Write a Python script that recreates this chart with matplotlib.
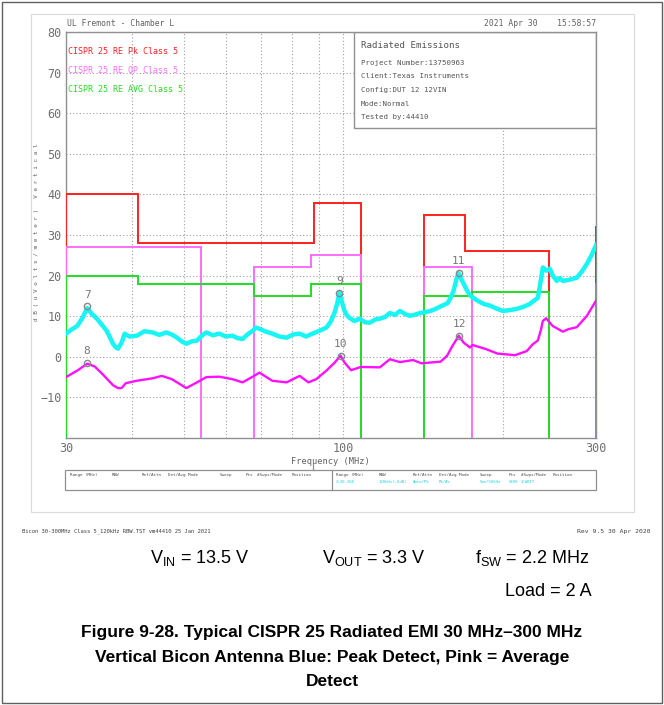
import numpy as np
import matplotlib.pyplot as plt
from matplotlib.patches import Rectangle

# limit lines, CISPR 25 class 5 (start MHz, stop MHz, level dBuV/m)
pk_start = [30, 41, 88, 142, 170, 300]
pk_stop = [41, 88, 108, 170, 245, 330]
pk_level = [40, 28, 38, 35, 26, 32]

qp_start = [30, 68, 87, 142]
qp_stop = [54, 87, 108, 175]
qp_level = [27, 22, 25, 22]

av_start = [30, 41, 68, 87, 142, 175, 300]
av_stop = [41, 68, 87, 108, 175, 245, 330]
av_level = [20, 18, 15, 18, 15, 16, 18]

# peak trace (blue/cyan)
pk_freq = [30.0, 30.8, 31.5, 32.2, 32.9, 33.6, 34.3, 35.0, 35.8, 36.3, 36.8, 37.2,
           37.6, 38.2, 38.7, 39.5, 40.8, 42.2, 43.7, 45.0, 46.4, 47.5, 48.6, 49.6,
           50.6, 51.8, 53.0, 54.1, 55.2, 56.8, 58.4, 60.1, 61.8, 63.2, 64.6, 66.0,
           67.5, 68.5, 69.5, 71.5, 73.5, 75.8, 78.2, 80.5, 82.8, 85.1, 87.5, 90.2,
           93.0, 94.7, 96.3, 97.4, 98.4, 99.5, 100.6, 101.7, 102.8, 105.0, 107.4,
           110.0, 112.3, 115.0, 117.3, 120.0, 122.5, 125.2, 128.0, 131.0, 133.7,
           136.8, 139.8, 143.0, 146.2, 149.5, 152.7, 155.0, 157.4, 159.5, 161.6,
           163.5, 165.1, 167.0, 168.8, 171.5, 174.0, 176.7, 179.4, 184.3, 189.3,
           194.6, 200.1, 206.3, 212.6, 218.7, 225.0, 229.0, 233.0, 235.5, 238.1,
           241.7, 245.4, 249.2, 253.0, 256.3, 259.7, 267.7, 276.0, 282.1, 288.4,
           294.2, 300.0]
pk_trace = [5.7, 6.8, 7.6, 9.5, 12.0, 10.5, 9.4, 8.0, 6.4, 4.8, 3.2, 2.4,
            2.0, 3.5, 5.7, 5.0, 5.2, 6.3, 6.0, 5.4, 6.0, 5.5, 4.7, 3.8,
            3.2, 3.8, 4.0, 5.2, 6.0, 5.3, 5.7, 5.0, 5.2, 4.6, 4.4, 5.5,
            6.4, 7.2, 6.9, 6.2, 5.7, 5.0, 4.7, 5.5, 5.7, 5.0, 5.7, 6.4,
            7.2, 8.6, 10.8, 13.0, 15.8, 13.5, 11.3, 10.2, 9.6, 8.8, 9.4,
            8.5, 8.4, 9.2, 9.4, 9.8, 10.8, 10.3, 11.3, 10.5, 10.1,
            10.4, 10.8, 11.0, 11.3, 11.8, 12.4, 12.8, 13.2, 14.5, 16.3,
            19.0, 20.6, 19.2, 18.0, 16.2, 15.0, 14.4, 13.8, 13.0, 12.6,
            11.9, 11.3, 11.5, 11.8, 12.3, 13.0, 13.8, 14.5, 18.0, 22.0,
            21.2, 21.7, 19.8, 18.7, 19.4, 18.7, 19.0, 19.5, 21.0, 22.9,
            25.0, 27.5]

# average trace (pink)
av_freq = [30.1, 31.5, 32.9, 34.0, 35.3, 36.8, 37.6, 38.2, 38.9, 40.8, 43.7, 45.5,
           47.5, 50.6, 53.0, 55.2, 58.4, 61.8, 64.6, 67.5, 69.5, 73.5, 78.2, 82.8,
           86.0, 89.0, 93.0, 96.3, 98.9, 100.6, 103.5, 108.0, 117.3, 122.5, 128.0,
           135.5, 140.5, 152.7, 157.0, 160.5, 165.3, 168.8, 173.5, 175.5, 186.0,
           195.5, 211.0, 222.0, 228.0, 233.0, 236.0, 238.1, 241.5, 248.5, 259.7,
           266.0, 276.0, 288.4, 300.0]
av_trace = [-4.9, -3.4, -1.7, -2.4, -4.5, -7.0, -7.7, -7.7, -6.5, -5.9, -5.3, -4.7,
            -5.5, -7.7, -6.3, -5.0, -4.9, -5.5, -6.3, -4.9, -3.9, -5.9, -6.3, -4.7,
            -6.3, -5.5, -3.4, -1.5, 0.3, -1.4, -3.3, -2.5, -2.6, -0.6, -1.3,
            -0.8, -1.6, -1.2, 0.2, 2.5, 5.2, 3.5, 2.3, 2.9, 1.9,
            0.8, 0.4, 1.4, 3.1, 4.0, 6.5, 8.8, 9.5, 7.6, 6.2,
            6.8, 7.3, 10.1, 13.8]

# markers
mk_label = ['7', '8', '9', '10', '11', '12']
mk_freq = [32.9, 32.8, 98.4, 98.9, 165.1, 165.5]
mk_level = [12.4, -1.5, 15.8, 0.2, 20.7, 5.2]

info_lines = ['Project Number:13750963', 'Client:Texas Instruments',
              'Config:DUT 12 12VIN', 'Mode:Normal', 'Tested by:44410']
tbl_head = ['Range (MHz)', 'RBW', 'Ref/Attn', 'Det/Avg Mode', 'Sweep', 'Pts',
            '#Swps/Mode', 'Position']
tbl_vals = ['2:30-300', '120kHz(-6dB)', 'Auto/Pk', 'Pk/Av', '5ms/50kHz', '5400',
            '1/WRIT', '']

W, H = 664, 705
RED, MAG, GRN, CYA, PNK = '#ff2020', '#ff6cff', '#22dd22', '#19f5f5', '#ff10ff'
MONO = 'DejaVu Sans Mono'

fig = plt.figure(figsize=(W / 100, H / 100), dpi=100)


def fx(x):
    return x / W


def fy(y):
    return 1 - y / H


def ftext(x, y, s, **kw):
    fig.text(fx(x), fy(y), s, **kw)


# frames
fig.add_artist(Rectangle((fx(2), fy(703)), fx(660), 701 / H, fill=False,
                         ec='#606060', lw=1.0, transform=fig.transFigure))
fig.add_artist(Rectangle((fx(31), fy(512)), fx(603), 498 / H, fill=False,
                         ec='#dadada', lw=0.8, transform=fig.transFigure))

ax = fig.add_axes([fx(66), fy(438), fx(530), 406 / H])
ax.set_xscale('log')
ax.set_xlim(30, 300)
ax.set_ylim(-20, 80)
ax.set_xticks([30, 100, 300])
ax.set_xticklabels(['30', '100', '300'])
ax.set_xticks([40, 50, 60, 70, 80, 90, 200], minor=True)
ax.xaxis.set_minor_formatter(plt.NullFormatter())
ax.set_yticks(range(-10, 81, 10))
ax.tick_params(which='both', length=0, colors='#707070', labelsize=8.5, pad=3)
for lab in ax.get_xticklabels() + ax.get_yticklabels():
    lab.set_family(MONO)
ax.grid(True, which='both', color='#a0a0a0', lw=0.8, ls=(0, (1, 2)))
ax.set_axisbelow(True)
for sp in ax.spines.values():
    sp.set_color('#909090')
    sp.set_linewidth(1.0)

# info box sits on the grid
ax.add_patch(Rectangle((0.5435, 0.7635), 0.4565, 0.2365, transform=ax.transAxes,
                       fc='white', ec='#909090', lw=1.0, zorder=1.5))


def limit_path(starts, stops, levels):
    xs, ys = [], []
    for i, (s, e, v) in enumerate(zip(starts, stops, levels)):
        if i == 0 or s != stops[i - 1]:
            if xs:
                xs.append(np.nan)
                ys.append(np.nan)
            xs += [s]
            ys += [-20]
        xs += [s, e]
        ys += [v, v]
        if i == len(starts) - 1 or starts[i + 1] != e:
            xs.append(e)
            ys.append(-20)
    return xs, ys


for (st, sp_, lv), col in [((pk_start, pk_stop, pk_level), RED),
                           ((qp_start, qp_stop, qp_level), MAG),
                           ((av_start, av_stop, av_level), GRN)]:
    x, y = limit_path(st, sp_, lv)
    ax.plot(x, y, color=col, lw=1.4, zorder=3, solid_joinstyle='miter')

ax.plot(pk_freq, pk_trace, color=CYA, lw=3.2, zorder=4, solid_joinstyle='round')
ax.plot(av_freq, av_trace, color=PNK, lw=1.7, zorder=5)

ax.plot(mk_freq, mk_level, 'o', ms=4.5, mfc='none', mec='#888888', mew=1.0, zorder=6)
for lab, f, v in zip(mk_label, mk_freq, mk_level):
    ax.annotate(lab, (f, v), xytext=(0, 5), textcoords='offset points', ha='center',
                va='bottom', fontsize=8, family=MONO, color='#777777', zorder=6)

# legend texts
lt = dict(family=MONO, fontsize=6.0, va='center', ha='left')
ftext(68, 52, 'CISPR 25 RE Pk Class 5', color=RED, **lt)
ftext(68, 70, 'CISPR 25 RE QP Class 5', color=MAG, **lt)
ftext(68, 90, 'CISPR 25 RE AVG Class 5', color=GRN, **lt)

# header / info texts
ftext(67, 23, 'UL Fremont - Chamber L', family=MONO, fontsize=5.8, color='#606060',
      va='center')
ftext(596, 23, '2021 Apr 30    15:58:57', family=MONO, fontsize=5.8, color='#606060',
      va='center', ha='right')
ftext(361, 45, 'Radiated Emissions', family=MONO, fontsize=6.6, color='#555555',
      va='center')
for i, s in enumerate(info_lines):
    ftext(361, 63 + i * 13.5, s, family=MONO, fontsize=5.3, color='#555555',
          va='center')

ftext(37, 232, ' '.join('dB(uVolts/meter) Vertical'), family=MONO, fontsize=4.3,
      color='#606060', rotation=90, ha='center', va='center')
ftext(330, 461, 'Frequency (MHz)', family=MONO, fontsize=6.2, color='#606060',
      ha='center', va='center')

# settings table
fig.add_artist(Rectangle((fx(65), fy(490)), fx(531), 20 / H, fill=False,
                         ec='#909090', lw=0.9, transform=fig.transFigure))
fig.add_artist(plt.Line2D([fx(332), fx(332)], [fy(470), fy(490)], color='#909090',
                          lw=0.9, transform=fig.transFigure))
fig.add_artist(plt.Line2D([fx(313), fx(313)], [fy(463), fy(470)], color='#909090',
                          lw=0.9, transform=fig.transFigure))
left_x = [70, 112, 142, 168, 220, 246, 257, 292]
right_x = [336, 379, 413, 439, 480, 509, 521, 553]
for h, xl, xr in zip(tbl_head, left_x, right_x):
    ftext(xl, 475, h, family=MONO, fontsize=3.1, color='#505050', va='center')
    ftext(xr, 475, h, family=MONO, fontsize=3.1, color='#505050', va='center')
for v, xr in zip(tbl_vals, right_x):
    ftext(xr, 482, v, family=MONO, fontsize=2.9, color='#20d0e0', va='center')

ftext(22, 531, 'Bicon 30-300MHz Class 5_120kHz RBW.TST vm44410 25 Jan 2021',
      family=MONO, fontsize=4.0, color='#404040', va='center')
ftext(651, 531, 'Rev 9.5 30 Apr 2020', family=MONO, fontsize=4.6, color='#404040',
      va='center', ha='right')

# conditions and caption
plt.rcParams['mathtext.fontset'] = 'custom'
plt.rcParams['mathtext.rm'] = 'Liberation Sans'
SANS = 'Liberation Sans'
ftext(150, 558, r'V$_\mathregular{IN}$ = 13.5 V', family=SANS, fontsize=13,
      va='center')
ftext(322, 558, r'V$_\mathregular{OUT}$ = 3.3 V', family=SANS, fontsize=13,
      va='center')
ftext(475, 558, r'f$_\mathregular{SW}$ = 2.2 MHz', family=SANS, fontsize=13,
      va='center')
ftext(505, 591, 'Load = 2 A', family=SANS, fontsize=13, va='center')

cap = ['Figure 9-28. Typical CISPR 25 Radiated EMI 30 MHz\u2013300 MHz',
       'Vertical Bicon Antenna Blue: Peak Detect, Pink = Average',
       'Detect']
for i, s in enumerate(cap):
    ftext(332, 633 + i * 24.5, s, family=SANS, fontsize=12.5, weight='bold',
          ha='center', va='center')

fig.savefig('out.png', dpi=100)
